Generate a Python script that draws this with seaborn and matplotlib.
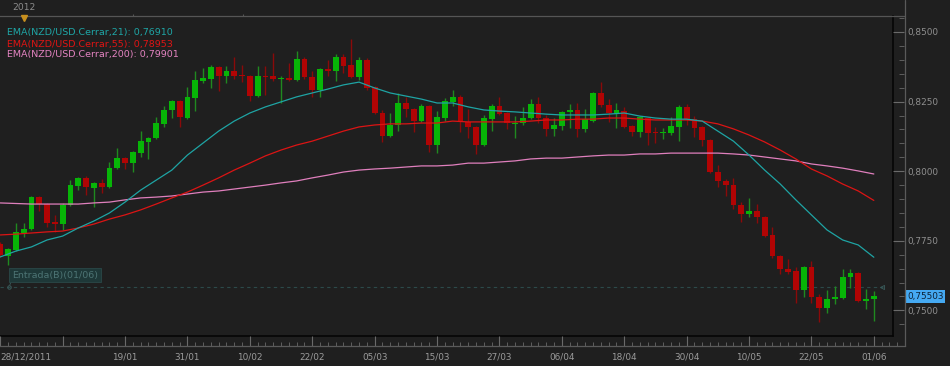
import numpy as np
import pandas as pd
import matplotlib
matplotlib.use("Agg")
import matplotlib.pyplot as plt
import matplotlib.transforms as mtransforms
from matplotlib.ticker import MultipleLocator, FixedLocator
import seaborn as sns

# ---------------- data ----------------
opens = [0.7738, 0.7695, 0.7717, 0.7778, 0.7792, 0.7907, 0.7882, 0.7818, 0.7810, 0.7879,
         0.7947, 0.7976, 0.7940, 0.7958, 0.7943, 0.8011, 0.8047, 0.8029, 0.8065, 0.8105,
         0.8119, 0.8170, 0.8220, 0.8252, 0.8191, 0.8263, 0.8324, 0.8331, 0.8374, 0.8342,
         0.8360, 0.8346, 0.8342, 0.8270, 0.8342, 0.8342, 0.8331, 0.8335, 0.8328, 0.8403,
         0.8338, 0.8292, 0.8367, 0.8360, 0.8410, 0.8381, 0.8338, 0.8399, 0.8302, 0.8209,
         0.8126, 0.8166, 0.8245, 0.8223, 0.8180, 0.8234, 0.8094, 0.8191, 0.8249, 0.8267,
         0.8177, 0.8159, 0.8094, 0.8187, 0.8234, 0.8209, 0.8170, 0.8173, 0.8191, 0.8241,
         0.8191, 0.8152, 0.8162, 0.8213, 0.8220, 0.8152, 0.8180, 0.8281, 0.8238, 0.8209,
         0.8216, 0.8162, 0.8141, 0.8191, 0.8141, 0.8137, 0.8137, 0.8159, 0.8231, 0.8187,
         0.8159, 0.8112, 0.7997, 0.7965, 0.7950, 0.7879, 0.7846, 0.7857, 0.7835, 0.7771,
         0.7695, 0.7649, 0.7642, 0.7573, 0.7656, 0.7548, 0.7509, 0.7541, 0.7545, 0.7620,
         0.7634, 0.7534, 0.7541]
highs = [0.7746, 0.7724, 0.7814, 0.7814, 0.7911, 0.7911, 0.7886, 0.7843, 0.7886, 0.7968,
         0.7979, 0.7983, 0.7961, 0.7972, 0.8033, 0.8083, 0.8051, 0.8072, 0.8144, 0.8123,
         0.8195, 0.8234, 0.8256, 0.8256, 0.8302, 0.8360, 0.8371, 0.8381, 0.8378, 0.8378,
         0.8410, 0.8381, 0.8346, 0.8378, 0.8378, 0.8425, 0.8342, 0.8389, 0.8432, 0.8410,
         0.8360, 0.8371, 0.8399, 0.8421, 0.8421, 0.8475, 0.8410, 0.8407, 0.8306, 0.8220,
         0.8209, 0.8281, 0.8267, 0.8227, 0.8241, 0.8238, 0.8216, 0.8263, 0.8292, 0.8274,
         0.8223, 0.8162, 0.8202, 0.8241, 0.8267, 0.8213, 0.8198, 0.8231, 0.8259, 0.8267,
         0.8202, 0.8191, 0.8216, 0.8241, 0.8245, 0.8223, 0.8284, 0.8320, 0.8259, 0.8245,
         0.8231, 0.8166, 0.8198, 0.8195, 0.8159, 0.8155, 0.8195, 0.8238, 0.8241, 0.8198,
         0.8162, 0.8116, 0.8022, 0.7972, 0.7976, 0.7889, 0.7904, 0.7882, 0.7839, 0.7800,
         0.7699, 0.7685, 0.7656, 0.7659, 0.7677, 0.7559, 0.7573, 0.7588, 0.7649, 0.7649,
         0.7638, 0.7577, 0.7570]
lows = [0.7692, 0.7663, 0.7713, 0.7764, 0.7789, 0.7857, 0.7800, 0.7782, 0.7789, 0.7875,
        0.7932, 0.7914, 0.7871, 0.7922, 0.7940, 0.8008, 0.8008, 0.7997, 0.8051, 0.8044,
        0.8116, 0.8159, 0.8191, 0.8159, 0.8187, 0.8216, 0.8317, 0.8299, 0.8288, 0.8317,
        0.8331, 0.8320, 0.8252, 0.8267, 0.8274, 0.8324, 0.8245, 0.8324, 0.8324, 0.8331,
        0.8267, 0.8267, 0.8342, 0.8324, 0.8353, 0.8335, 0.8328, 0.8292, 0.8205, 0.8105,
        0.8123, 0.8144, 0.8195, 0.8141, 0.8177, 0.8069, 0.8065, 0.8180, 0.8234, 0.8141,
        0.8119, 0.8062, 0.8090, 0.8144, 0.8202, 0.8152, 0.8119, 0.8166, 0.8187, 0.8173,
        0.8126, 0.8126, 0.8148, 0.8155, 0.8123, 0.8141, 0.8177, 0.8231, 0.8177, 0.8155,
        0.8155, 0.8126, 0.8123, 0.8094, 0.8101, 0.8116, 0.8130, 0.8108, 0.8166, 0.8123,
        0.8090, 0.7994, 0.7943, 0.7911, 0.7864, 0.7818, 0.7835, 0.7814, 0.7764, 0.7688,
        0.7631, 0.7631, 0.7527, 0.7548, 0.7527, 0.7458, 0.7491, 0.7523, 0.7541, 0.7581,
        0.7530, 0.7505, 0.7462]
closes = [0.7699, 0.7721, 0.7782, 0.7792, 0.7907, 0.7882, 0.7814, 0.7810, 0.7879, 0.7950,
          0.7976, 0.7943, 0.7958, 0.7943, 0.8011, 0.8047, 0.8029, 0.8069, 0.8108, 0.8119,
          0.8173, 0.8220, 0.8252, 0.8195, 0.8267, 0.8328, 0.8335, 0.8374, 0.8342, 0.8360,
          0.8342, 0.8342, 0.8270, 0.8342, 0.8338, 0.8331, 0.8335, 0.8328, 0.8403, 0.8338,
          0.8292, 0.8367, 0.8360, 0.8410, 0.8378, 0.8338, 0.8399, 0.8299, 0.8209, 0.8126,
          0.8166, 0.8245, 0.8223, 0.8180, 0.8234, 0.8094, 0.8195, 0.8252, 0.8267, 0.8177,
          0.8159, 0.8094, 0.8191, 0.8234, 0.8205, 0.8173, 0.8173, 0.8191, 0.8241, 0.8191,
          0.8152, 0.8166, 0.8213, 0.8220, 0.8152, 0.8187, 0.8281, 0.8238, 0.8209, 0.8220,
          0.8159, 0.8141, 0.8195, 0.8137, 0.8137, 0.8141, 0.8162, 0.8231, 0.8187, 0.8155,
          0.8112, 0.7997, 0.7965, 0.7950, 0.7879, 0.7846, 0.7857, 0.7835, 0.7767, 0.7695,
          0.7649, 0.7638, 0.7573, 0.7656, 0.7548, 0.7509, 0.7541, 0.7548, 0.7620, 0.7634,
          0.7534, 0.7541, 0.7550]

# EMA readings, one every 2 sessions (session index 0 = 28/12/2011)
ema_sessions = list(range(0, 113, 2))
ema21 = [0.7692, 0.7713, 0.7728, 0.7753, 0.7767, 0.7796, 0.7821, 0.7850, 0.7889, 0.7932,
         0.7968, 0.8004, 0.8058, 0.8101, 0.8144, 0.8180, 0.8209, 0.8231, 0.8249, 0.8267,
         0.8281, 0.8295, 0.8310, 0.8320, 0.8299, 0.8281, 0.8270, 0.8259, 0.8245, 0.8245,
         0.8231, 0.8220, 0.8216, 0.8213, 0.8209, 0.8205, 0.8202, 0.8202, 0.8202, 0.8205,
         0.8209, 0.8198, 0.8191, 0.8187, 0.8187, 0.8180, 0.8144, 0.8108, 0.8058, 0.8004,
         0.7954, 0.7897, 0.7843, 0.7789, 0.7753, 0.7735, 0.7691]
ema55 = [0.7771, 0.7774, 0.7778, 0.7782, 0.7785, 0.7796, 0.7810, 0.7828, 0.7843, 0.7861,
         0.7882, 0.7904, 0.7925, 0.7950, 0.7976, 0.8004, 0.8029, 0.8055, 0.8076, 0.8094,
         0.8108, 0.8126, 0.8144, 0.8159, 0.8166, 0.8170, 0.8170, 0.8173, 0.8173, 0.8180,
         0.8177, 0.8177, 0.8177, 0.8177, 0.8180, 0.8184, 0.8184, 0.8187, 0.8187, 0.8191,
         0.8191, 0.8187, 0.8184, 0.8184, 0.8184, 0.8180, 0.8170, 0.8152, 0.8130, 0.8105,
         0.8076, 0.8044, 0.8008, 0.7983, 0.7954, 0.7929, 0.7895]
ema200 = [0.7886, 0.7884, 0.7882, 0.7882, 0.7882, 0.7882, 0.7886, 0.7889, 0.7897, 0.7904,
          0.7907, 0.7911, 0.7918, 0.7925, 0.7929, 0.7936, 0.7943, 0.7950, 0.7958, 0.7965,
          0.7976, 0.7986, 0.7997, 0.8004, 0.8008, 0.8011, 0.8015, 0.8019, 0.8019, 0.8022,
          0.8029, 0.8029, 0.8033, 0.8037, 0.8044, 0.8047, 0.8047, 0.8051, 0.8055, 0.8058,
          0.8058, 0.8062, 0.8062, 0.8065, 0.8065, 0.8065, 0.8065, 0.8062, 0.8058, 0.8051,
          0.8044, 0.8037, 0.8026, 0.8019, 0.8011, 0.8001, 0.7990]

date_tick_sessions = [0, 8, 16, 24, 32, 40, 48, 56, 64, 72, 80, 88, 96, 104, 112]
date_tick_labels = ["28/12/2011", "", "19/01", "31/01", "10/02", "22/02", "05/03", "15/03",
                    "27/03", "06/04", "18/04", "30/04", "10/05", "22/05", "01/06"]
price_ticks = [0.7500, 0.7750, 0.8000, 0.8250, 0.8500]
price_labels = ["0,7500", "0,7750", "0,8000", "0,8250", "0,8500"]
legend_texts = ["EMA(NZD/USD.Cerrar,21): 0,76910",
                "EMA(NZD/USD.Cerrar,55): 0,78953",
                "EMA(NZD/USD.Cerrar,200): 0,79901"]
last_price = 0.75503
last_price_label = "0,75503"
entry_price = 0.7583
entry_label = "Entrada(B)(01/06)"
year_label = "2012"

# ---------------- style ----------------
BG = "#1f1f1f"
sns.set_theme(style="dark", rc={"axes.facecolor": BG, "figure.facecolor": BG,
                                "axes.edgecolor": "#000000", "grid.color": BG})
plt.rcParams["font.family"] = ["DejaVu Sans"]

W, H = 950, 366
fig = plt.figure(figsize=(W / 100, H / 100), dpi=100)
fig.patch.set_facecolor(BG)


def box(x0, y0, x1, y1):
    return [x0 / W, 1 - y1 / H, (x1 - x0) / W, (y1 - y0) / H]


PX = 7.8          # pixels per session
X0 = -0.03        # session value at left edge
PLOT_R, PLOT_T, PLOT_B = 893, 16, 336
YLO = 0.85 - (PLOT_B - 32) / 2784
YHI = 0.85 + (32 - PLOT_T) / 2784

ax = fig.add_axes(box(0, PLOT_T, PLOT_R, PLOT_B))
ax.set_facecolor(BG)
ax.set_xlim(X0, X0 + PLOT_R / PX)
ax.set_ylim(YLO, YHI)

sessions = np.arange(len(opens))
o = np.array(opens); c = np.array(closes)
hi = np.array(highs); lo = np.array(lows)
up = c >= o
body_col = np.where(up, "#07b507", "#b10404")
wick_col = np.where(up, "#1f8a1f", "#8a0a0a")

ax.vlines(sessions, lo, hi, colors=wick_col, lw=1.0, zorder=2)
ax.bar(sessions, np.maximum(np.abs(c - o), 0.00025), bottom=np.minimum(o, c),
       width=0.74, color=body_col, linewidth=0, zorder=3)

ema_df = pd.DataFrame({"session": ema_sessions, "ema21": ema21,
                       "ema55": ema55, "ema200": ema200})
sns.lineplot(data=ema_df, x="session", y="ema200", ax=ax, color="#e07fbd", lw=0.9, zorder=4)
sns.lineplot(data=ema_df, x="session", y="ema55", ax=ax, color="#dc1414", lw=0.9, zorder=4)
sns.lineplot(data=ema_df, x="session", y="ema21", ax=ax, color="#1ea4a4", lw=0.9, zorder=5)

# entry line and label
ax.axhline(entry_price, xmin=0, xmax=883 / PLOT_R, color="#2c4a4a", lw=0.8,
           ls=(0, (3, 3)), zorder=1)
trans = mtransforms.blended_transform_factory(ax.transAxes, ax.transData)
ax.plot([9 / PLOT_R], [entry_price], transform=trans, marker="o", ms=2.5,
        mfc="none", mec="#3b5c5c", mew=0.7, zorder=6)
ax.plot([882 / PLOT_R], [entry_price], transform=trans, marker="<", ms=3,
        mfc="none", mec="#3b5c5c", mew=0.6, zorder=6)
ax.annotate(entry_label, xy=(9 / PLOT_R, entry_price), xycoords=trans,
            xytext=(2, 5.5), textcoords="offset points", ha="left", va="bottom",
            fontsize=6.8, color="#4d7474",
            bbox=dict(boxstyle="square,pad=0.3", fc="#1e3838", ec="#2a4848", lw=0.6),
            arrowprops=dict(arrowstyle="-", color="#3b5c5c", lw=0.6, relpos=(0.0, 0.0),
                            shrinkA=0, shrinkB=1.5), zorder=6)

ax.set_xticks([]); ax.set_yticks([])
ax.set_xlabel(""); ax.set_ylabel("")
for s in ["left", "top"]:
    ax.spines[s].set_visible(False)
for s in ["right", "bottom"]:
    ax.spines[s].set_color("#050505")
    ax.spines[s].set_linewidth(1.2)

# legend texts
for i, (t, col) in enumerate(zip(legend_texts, ["#1ea7a7", "#e01414", "#e584c2"])):
    fig.text(7 / W, 1 - (33 + 11 * i) / H, t, color=col, fontsize=6.8,
             ha="left", va="center")

# x tick strip
xs = fig.add_axes(box(0, PLOT_B, 905, 346))
xs.patch.set_alpha(0)
xs.set_xlim(X0, X0 + 905 / PX)
xs.set_ylim(0, 1)
xs.set_yticks([])
for s in ["left", "top", "right"]:
    xs.spines[s].set_visible(False)
xs.spines["bottom"].set_color("#5a5a5a")
xs.spines["bottom"].set_linewidth(0.9)
xs.xaxis.set_major_locator(FixedLocator(date_tick_sessions))
xs.xaxis.set_minor_locator(MultipleLocator(1))
xs.set_xticklabels(date_tick_labels)
xs.tick_params(axis="x", which="major", direction="in", length=7.5, width=0.8,
               color="#6a6a6a", labelsize=6.4, labelcolor="#9b9b9b", pad=5, bottom=True)
xs.tick_params(axis="x", which="minor", direction="in", length=3, width=0.7,
               color="#5e5e5e", bottom=True)
xs.get_xticklabels()[0].set_horizontalalignment("left")

# y tick strip
ys = fig.add_axes(box(PLOT_R, PLOT_T, 904, PLOT_B))
ys.patch.set_alpha(0)
ys.set_ylim(YLO, YHI)
ys.set_xticks([])
for s in ["left", "top", "bottom", "right"]:
    ys.spines[s].set_visible(False)
ys.yaxis.tick_right()
ys.yaxis.set_major_locator(FixedLocator(price_ticks))
ys.yaxis.set_minor_locator(MultipleLocator(0.005))
ys.set_yticklabels(price_labels)
ys.tick_params(axis="y", which="major", direction="in", length=8, width=0.8,
               color="#6a6a6a", labelsize=6.4, labelcolor="#8f8f8f", pad=2.5,
               right=True, left=False)
ys.tick_params(axis="y", which="minor", direction="in", length=3.5, width=0.7,
               color="#5e5e5e", right=True, left=False)
ytrans = mtransforms.blended_transform_factory(ys.transAxes, ys.transData)
ys.annotate(last_price_label, xy=(1, last_price), xycoords=ytrans, xytext=(2.2, 0),
            textcoords="offset points", ha="left", va="center", fontsize=6.4,
            color="#0d2236",
            bbox=dict(boxstyle="square,pad=0.2", fc="#45a9f2", ec="none"))

# vertical price-axis line and top navigator
fig.add_artist(plt.Line2D([904.5 / W, 904.5 / W], [1 - 346 / H, 1], color="#5a5a5a",
                          lw=0.9))
nav = fig.add_axes(box(0, 0, 904, PLOT_T))
nav.patch.set_alpha(0)
nav.set_xlim(0, 904); nav.set_ylim(PLOT_T, 0)
nav.set_xticks([]); nav.set_yticks([])
for s in ["left", "top", "right"]:
    nav.spines[s].set_visible(False)
nav.spines["bottom"].set_color("#555555")
nav.spines["bottom"].set_linewidth(0.9)
nav.text(12, 7.5, year_label, color="#8c8c8c", fontsize=6.6, ha="left", va="center")
nav.vlines([133, 243], PLOT_T - 2.5, PLOT_T, color="#555555", lw=0.8)
nav.plot([23.5], [18.2], marker="v", ms=5, color="#c8901e", clip_on=False, zorder=10)

fig.savefig("out.png", dpi=100, facecolor=BG)
